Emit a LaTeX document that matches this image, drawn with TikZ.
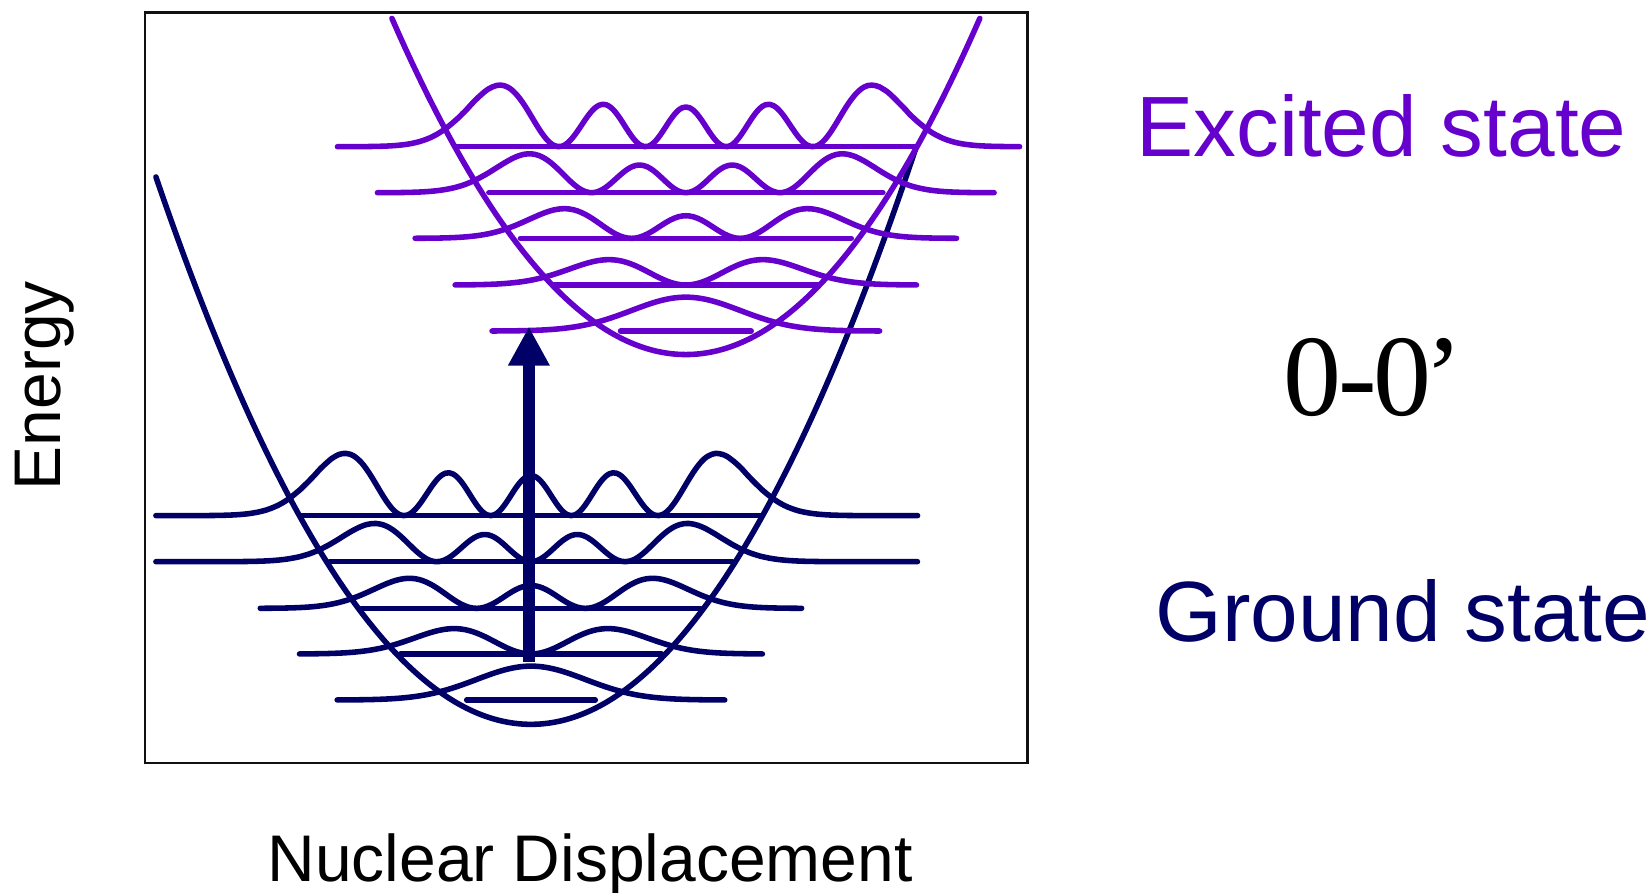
\documentclass[tikz,border=0pt]{standalone}
\usepackage{fontspec}
\setmainfont{Liberation Sans}
\newfontfamily\serifface{Liberation Serif}
\usetikzlibrary{arrows.meta}
\definecolor{ExcitedViolet}{HTML}{6600CC}
\definecolor{GroundNavy}{HTML}{000066}
\definecolor{FrameLine}{HTML}{111111}

\begin{document}
\begin{tikzpicture}[
    x=0.01cm, y=-0.01cm,
    declare function={
        densA(\t)=0.5642*exp(-\t*\t);
        densB(\t)=1.1284*\t*\t*exp(-\t*\t);
        ampC(\t)=(2*\t*\t-1)*exp(-\t*\t/2);
        densC(\t)=0.2821*ampC(\t)*ampC(\t);
        ampD(\t)=(2*\t*\t*\t-3*\t)*exp(-\t*\t/2);
        densD(\t)=0.1881*ampD(\t)*ampD(\t);
        ampE(\t)=(4*\t*\t*\t*\t-12*\t*\t+3)*exp(-\t*\t/2);
        densE(\t)=0.02351*ampE(\t)*ampE(\t);
    },
    plotframe/.style={draw=FrameLine, line width=0.7pt},
    groundcurve/.style={draw=GroundNavy, line width=1.5pt, line cap=round, line join=round},
    excitedcurve/.style={draw=ExcitedViolet, line width=1.5pt, line cap=round, line join=round},
    transition/.style={draw=GroundNavy, line width=3.4pt, -{Triangle[width=0.37cm, length=0.37cm]}},
    statelabel/.style={font=\fontsize{23.1}{28}\selectfont, inner sep=0pt, anchor=base west},
    axislabel/.style={font=\fontsize{17.8}{21}\selectfont, text=black, inner sep=0pt, anchor=base}
]

\useasboundingbox (0,0) rectangle (1568,847);

\draw[plotframe] (137.6,12) rectangle (975,724);

% ground state well and levels
\draw[groundcurve] plot[domain=148:869, samples=90, smooth] (\x, {687.5-((\x-504)*0.06403)*((\x-504)*0.06403)});
\foreach \lev/\half in {664.4/61, 620.7/124, 577.4/161, 533.1/191, 489.4/218}
    \draw[groundcurve] (504-\half,\lev) -- (504+\half,\lev);

\draw[groundcurve] plot[domain=-2.52:2.52, samples=121, smooth] ({504+73*\x}, {664.4-57*densA(\x)});
\draw[groundcurve] plot[domain=-3.01:3.01, samples=121, smooth] ({504+73*\x}, {620.7-58*densB(\x)});
\draw[groundcurve] plot[domain=-3.52:3.52, samples=141, smooth] ({504+73*\x}, {577.4-77*densC(\x)});
\draw[groundcurve] plot[domain=-4.877:5.027, samples=181, smooth] ({504+73*\x}, {533.1-105*densD(\x)});
\draw[groundcurve] plot[domain=-4.877:5.027, samples=201, smooth] ({504+73*\x}, {489.4-180*densE(\x)});

% excited state well and levels
\draw[excitedcurve] plot[domain=372:930, samples=90, smooth] (\x, {336.5-((\x-651)*0.06403)*((\x-651)*0.06403)});
\foreach \lev/\half in {314.2/62, 270.5/125, 226.2/157, 182.9/187, 139.2/219}
    \draw[excitedcurve] (651-\half,\lev) -- (651+\half,\lev);

\draw[excitedcurve] plot[domain=-2.52:2.52, samples=121, smooth] ({651+73*\x}, {314.2-57*densA(\x)});
\draw[excitedcurve] plot[domain=-3.0:3.0, samples=121, smooth] ({651+73*\x}, {270.5-58*densB(\x)});
\draw[excitedcurve] plot[domain=-3.52:3.52, samples=141, smooth] ({651+73*\x}, {226.2-76*densC(\x)});
\draw[excitedcurve] plot[domain=-4.01:4.01, samples=161, smooth] ({651+73*\x}, {182.9-107*densD(\x)});
\draw[excitedcurve] plot[domain=-4.53:4.34, samples=181, smooth] ({651+73*\x}, {139.2-178*densE(\x)});

% vertical transition
\coordinate (vibone) at (502,628);
\coordinate (vibzero) at (502,310);
\draw[transition] (vibone) -- (vibzero);

\node[statelabel, text=ExcitedViolet] (excitedlabel) at (1078,148.7) {Excited state};
\node[statelabel, text=GroundNavy] (groundlabel) at (1096,609) {Ground state};
\node[inner sep=0pt, anchor=base west, font=\serifface\fontsize{31.3}{36}\selectfont] (zerozero) at (1218,394)
    {0\kern-0.03em-\kern-0.03em0\kern-0.06em’};

\node[axislabel, rotate=90] (energylabel) at (57,366) {Energy};
\node[axislabel] (displabel) at (560,837) {Nuclear Displacement};

\end{tikzpicture}
\end{document}
